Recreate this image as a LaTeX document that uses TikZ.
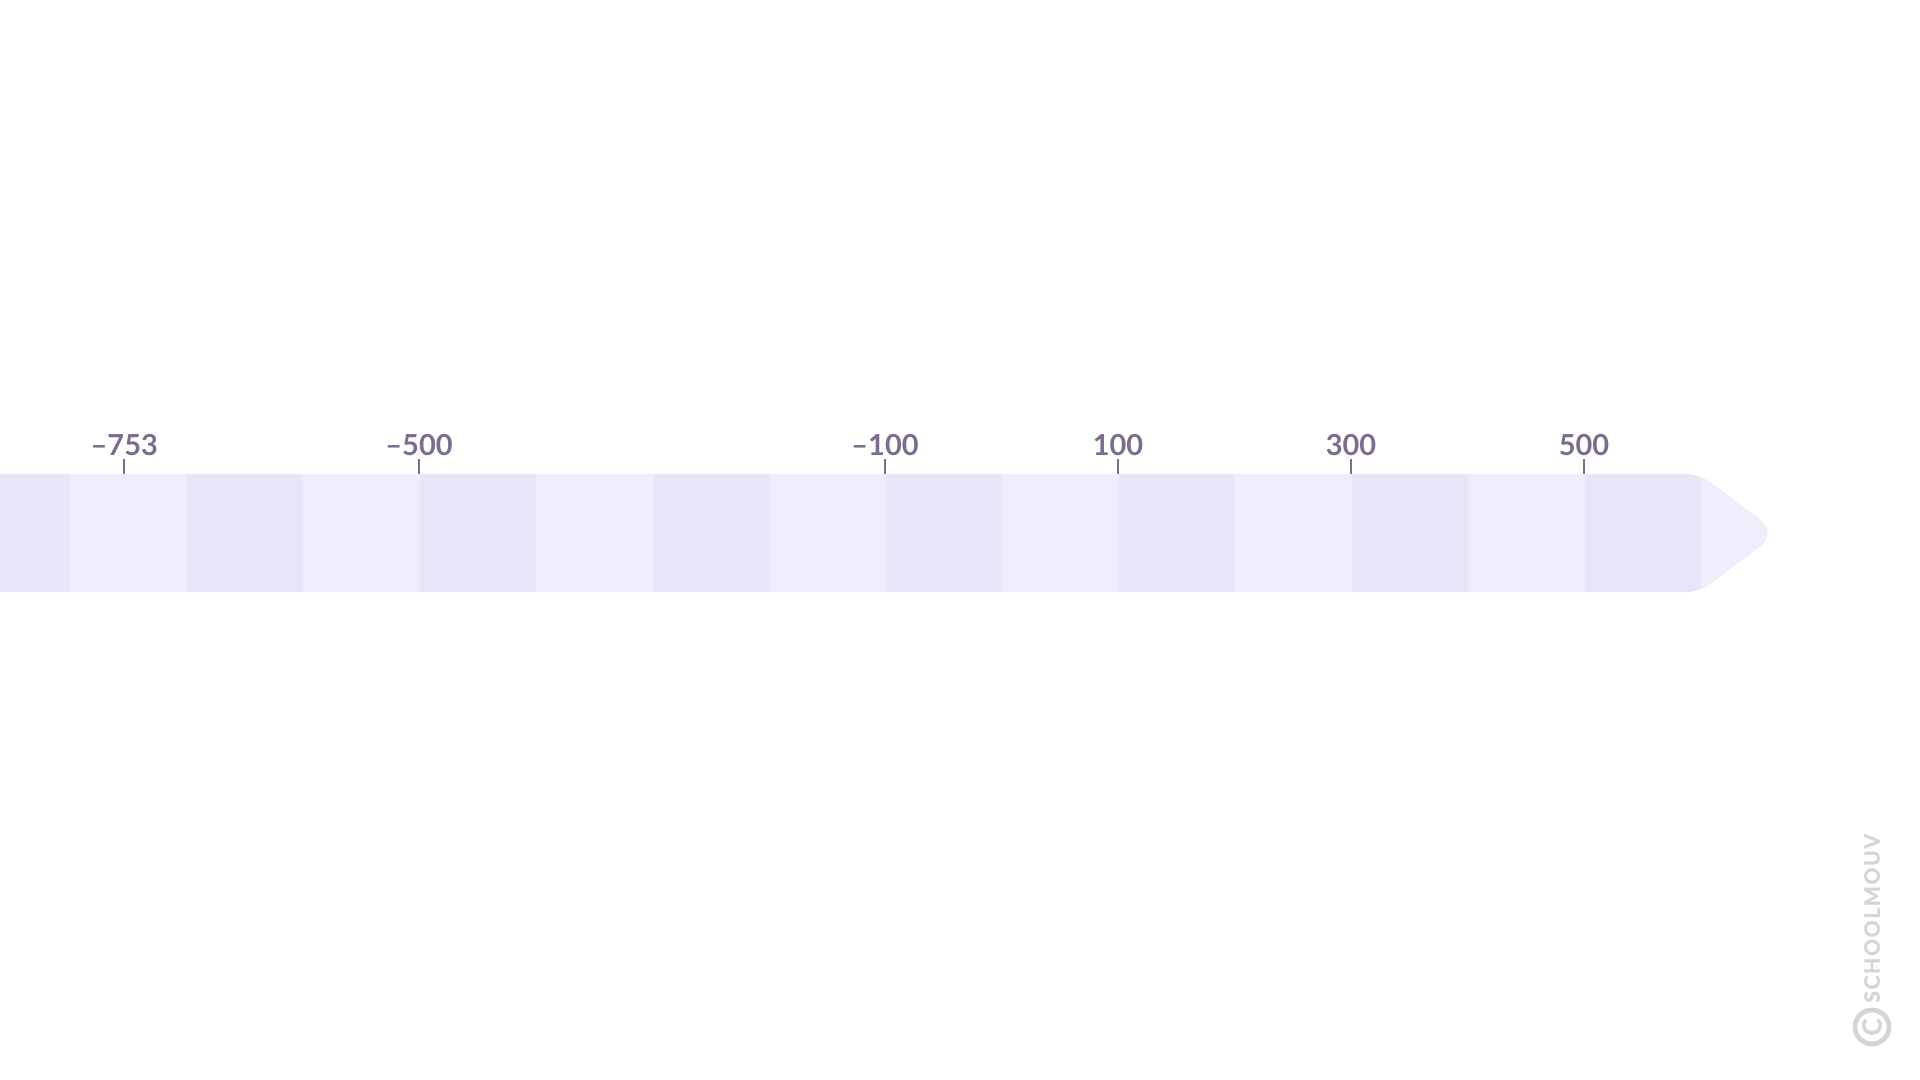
\documentclass[tikz,border=0pt]{standalone}
\usepackage{fontspec}
\setmainfont{Lato}
\newfontfamily\markfont[LetterSpace=8,BoldFeatures={FakeBold=1.5}]{Lato}
\usetikzlibrary{calc}
\definecolor{bandlight}{RGB}{239,237,251}
\definecolor{banddark}{RGB}{232,229,249}
\definecolor{ticklabel}{RGB}{124,108,143}
\definecolor{markgray}{RGB}{212,212,217}

\begin{document}
\begin{tikzpicture}[x=0.5pt,y=-0.5pt,
    ticklab/.style={anchor=base,inner sep=0pt,text=ticklabel,
      font=\fontsize{14.5}{16}\selectfont\bfseries},
    tickmark/.style={draw=ticklabel,line width=1.2pt}]
  \useasboundingbox (0,0) rectangle (1920,1080);
  % banded arrow
  \begin{scope}
    \clip[rounded corners=7pt] (-40,474) -- (1700,474) [rounded corners=11pt] -- (1778,533)
      [rounded corners=7pt] -- (1700,592) -- (-40,592) -- cycle;
    \fill[bandlight] (-40,470) rectangle (1800,600);
    \foreach \i in {0,2,...,14}
      \fill[banddark] ({-46.5+116.5*\i},470) rectangle ({70+116.5*\i},600);
  \end{scope}
  % ticks and their values
  \foreach \v/\t [count=\k] in {-753/{–753},-500/{–500},-100/{–100},100/100,300/300,500/500} {
    \coordinate (tk\k) at ({1001.5+1.165*\v},474);
    \draw[tickmark] (tk\k) -- ++(0,-15);
    \node[ticklab] (val\k) at ({1001.5+1.165*\v},455) {\t};
  }
  % watermark
  \node[circle,draw=markgray,line width=2.4pt,minimum size=17pt,inner sep=0pt,
    text=markgray,font=\fontsize{13}{13}\markfont\bfseries,rotate=90]
    (copy) at (1872,1027) {C};
  \node[rotate=90,anchor=west,text=markgray,inner sep=0pt,
    font=\fontsize{10.5}{11}\markfont\bfseries]
    (mark) at (1872,1003) {SCHOOLMOUV};
\end{tikzpicture}
\end{document}
